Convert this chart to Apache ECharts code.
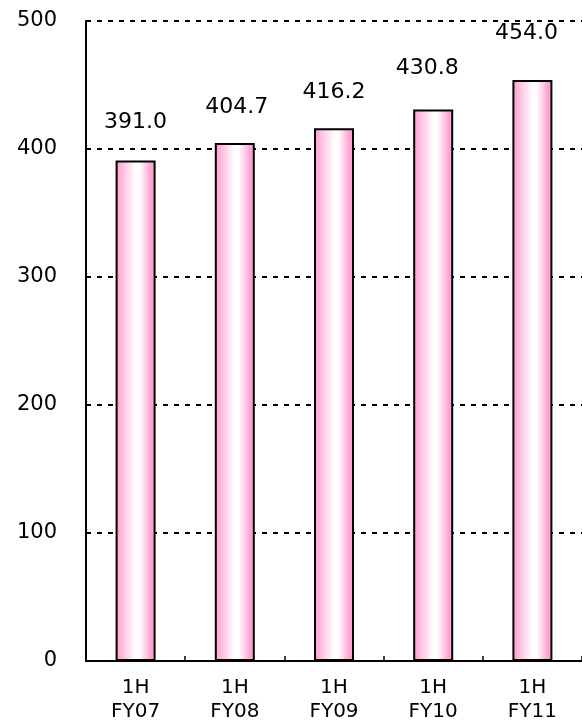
<!DOCTYPE html>
<html>
<head>
<meta charset="utf-8">
<script src="https://cdn.jsdelivr.net/npm/echarts@6/dist/echarts.min.js"></script>
<style>
  html, body { margin: 0; padding: 0; background: #fff; }
  #chart { width: 582px; height: 724px; }
</style>
</head>
<body>
<div id="chart"></div>
<script>
// Half-year figures, 1H FY07 – 1H FY11
const categories = ['1H\nFY07', '1H\nFY08', '1H\nFY09', '1H\nFY10', '1H\nFY11'];
const values = [391.0, 404.7, 416.2, 430.8, 454.0];
const yTicks = [0, 100, 200, 300, 400, 500];

// Small per-bar nudges for the value labels
const labelDistance = [27, 25, 25, 30, 36];
const labelShiftX = [0, 2, 0, -6, -6];

const FONT = '"DejaVu Sans", "Liberation Sans", sans-serif';

const barFill = new echarts.graphic.LinearGradient(0, 0, 1, 0, [
  { offset: 0, color: '#ff9acd' },
  { offset: 0.5, color: '#ffffff' },
  { offset: 0.6, color: '#ffffff' },
  { offset: 0.9, color: '#ff9fd0' },
  { offset: 1, color: '#ffa6d3' }
]);

const chart = echarts.init(document.getElementById('chart'), null, { renderer: 'canvas' });

chart.setOption({
  animation: false,
  backgroundColor: '#ffffff',
  grid: { left: 86, right: -8, top: 21, bottom: 63, containLabel: false },
  xAxis: {
    type: 'category',
    data: categories,
    axisLine: { lineStyle: { color: '#000', width: 2 } },
    axisTick: { show: true, inside: true, length: 5, lineStyle: { color: '#000', width: 1.5 } },
    axisLabel: {
      color: '#000',
      fontFamily: FONT,
      fontSize: 20,
      lineHeight: 24,
      margin: 15
    },
    splitLine: { show: false }
  },
  yAxis: {
    type: 'value',
    min: yTicks[0],
    max: yTicks[yTicks.length - 1],
    interval: 100,
    axisLine: { show: true, lineStyle: { color: '#000', width: 2 } },
    axisTick: { show: true, inside: true, length: 4, lineStyle: { color: '#000', width: 1.5 } },
    axisLabel: {
      color: '#000',
      fontFamily: FONT,
      fontSize: 21,
      margin: 29,
      formatter: v => yTicks.includes(v) ? String(v) : ''
    },
    splitLine: {
      show: true,
      lineStyle: { color: '#000', width: 2, type: [5, 6] }
    }
  },
  series: [{
    type: 'bar',
    barWidth: 40,
    data: values.map((v, i) => ({
      value: v,
      label: { distance: labelDistance[i], offset: [labelShiftX[i], 0] }
    })),
    itemStyle: { color: barFill, borderColor: '#000', borderWidth: 2 },
    label: {
      show: true,
      position: 'top',
      color: '#000',
      fontFamily: FONT,
      fontSize: 22,
      formatter: p => p.value.toFixed(1)
    }
  }]
});
</script>
</body>
</html>
